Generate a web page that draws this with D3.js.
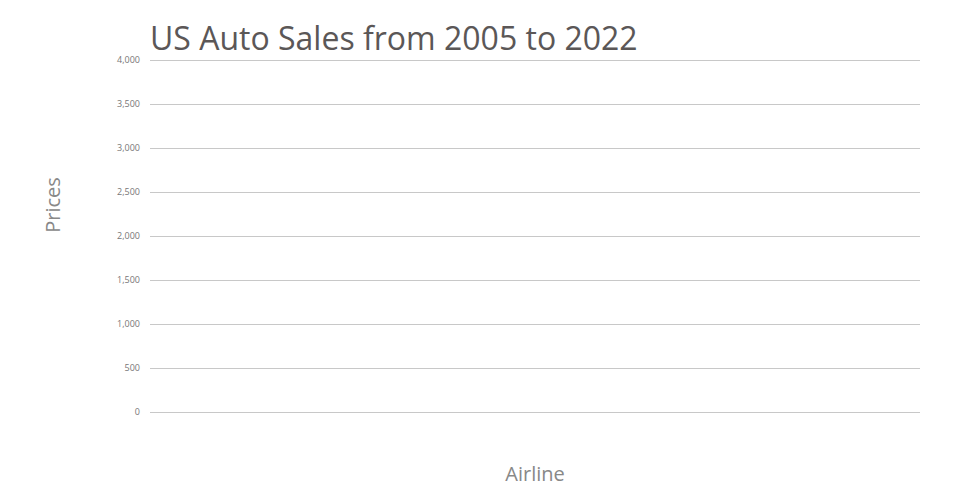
<!DOCTYPE html>
<html>
<head>
<meta charset="utf-8">
<script src="https://cdn.jsdelivr.net/npm/d3@7"></script>
<style>
  body { margin: 0; background: #fff; }
  text { font-family: "Open Sans", sans-serif; }
</style>
</head>
<body>
<svg id="chart" width="960" height="500"></svg>
<script>
const title = "US Auto Sales from 2005 to 2022";
const xLabel = "Airline";
const yLabel = "Prices";
const categories = [];
const values = [];
const yTicks = [0, 500, 1000, 1500, 2000, 2500, 3000, 3500, 4000];

const svg = d3.select("#chart");
const margin = {left: 150, right: 40, top: 60, bottom: 88};
const W = 960, H = 500;

const x = d3.scaleBand().domain(categories).range([margin.left, W - margin.right]).padding(0.2);
const y = d3.scaleLinear().domain([0, 4000]).range([H - margin.bottom, margin.top]);

const yAxis = d3.axisLeft(y).tickValues(yTicks).tickFormat(d3.format(",")).tickSize(-(W - margin.left - margin.right)).tickPadding(10);
const g = svg.append("g").attr("transform", `translate(${margin.left},0)`).call(yAxis);
g.select(".domain").remove();
g.selectAll(".tick line").attr("stroke", "#c8c8c8").attr("stroke-width", 1).attr("shape-rendering", "crispEdges");
g.selectAll(".tick text").attr("fill", "#777").style("font-size", "9px");

svg.selectAll("rect.bar").data(values).enter().append("rect")
  .attr("class", "bar")
  .attr("x", (d, i) => x(categories[i]))
  .attr("width", x.bandwidth())
  .attr("y", d => y(d))
  .attr("height", d => y(0) - y(d))
  .attr("fill", "#4e79a7");

svg.append("text").attr("x", 150).attr("y", 50).text(title)
  .attr("fill", "#5b5757").style("font-size", "32px");

svg.append("text").attr("x", 535).attr("y", 481).attr("text-anchor", "middle").text(xLabel)
  .attr("fill", "#888").style("font-size", "20px");

svg.append("text").attr("transform", "translate(60,205) rotate(-90)").attr("text-anchor", "middle").text(yLabel)
  .attr("fill", "#888").style("font-size", "20px");
</script>
</body>
</html>
